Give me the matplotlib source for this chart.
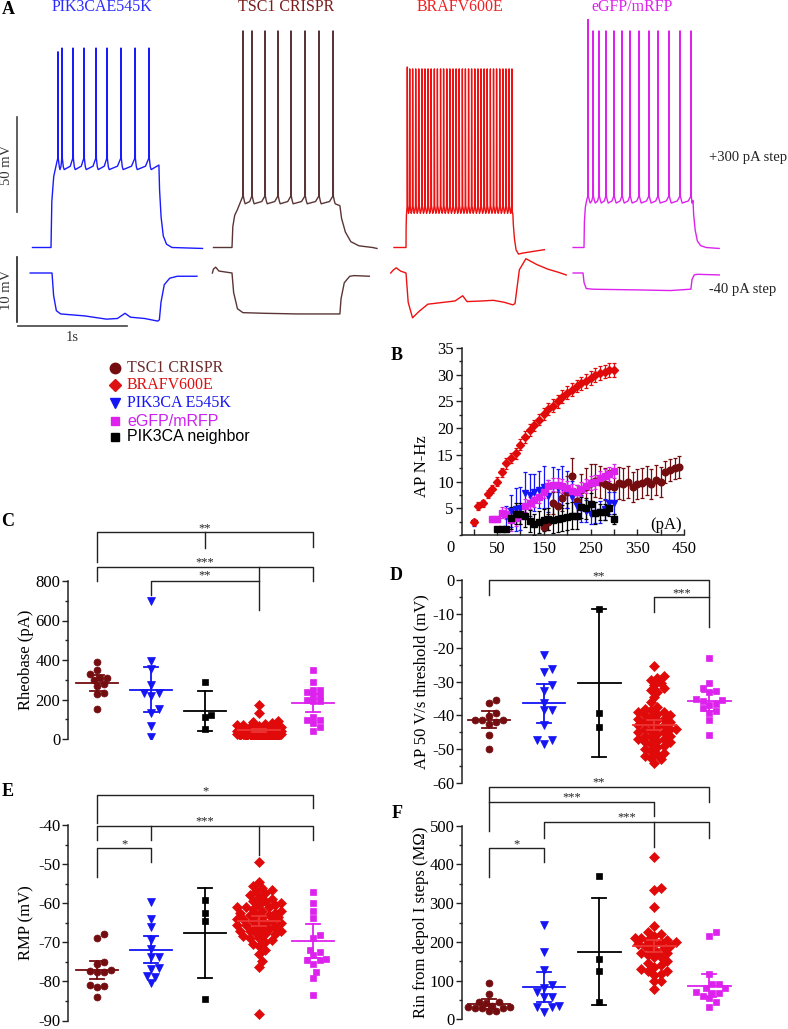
import numpy as np
import matplotlib.pyplot as plt
from matplotlib.lines import Line2D
from matplotlib.ticker import MultipleLocator

# ---------------- panel A: example traces ----------------
# time in s from step onset, voltage in mV from rest
trace_names = ['PIK3CAE545K', 'TSC1 CRISPR', 'BRAFV600E', 'eGFP/mRFP']
spikes_pik = [0.064, 0.101, 0.202, 0.303, 0.413, 0.514, 0.642, 0.771, 0.899]
spikes_tsc = [0.101, 0.183, 0.303, 0.422, 0.541, 0.670, 0.798, 0.927]
spikes_braf = [0.012, 0.034, 0.061, 0.089, 0.117, 0.146, 0.174, 0.203, 0.231, 0.260,
               0.288, 0.317, 0.345, 0.374, 0.402, 0.431, 0.460, 0.488, 0.517, 0.545,
               0.574, 0.602, 0.631, 0.660, 0.688, 0.717, 0.745, 0.774, 0.803, 0.831,
               0.860, 0.889, 0.917, 0.946, 0.972]
spikes_gfp = [0.037, 0.083, 0.138, 0.202, 0.275, 0.349, 0.422, 0.505, 0.596, 0.679,
              0.780, 0.881, 0.982]
step_len = [0.99, 0.99, 0.98, 1.0]
pre_len = [0.17, 0.17, 0.11, 0.10]
post_len = [0.40, 0.34, 0.29, 0.24]
rise_mv = [44, 20, 20, 25]
rise_tau = [0.05, 0.05, 0.008, 0.025]
thr_mv = [47, 27, 22, 27]
trough_mv = [41, 23, 18, 23.4]
peak_mv = [105, 114, 94, 114]
first_peak_mv = [103, 114, 95, 120]
end_mv = [43.4, 22, 18, 24.7]
off_tau = [0.02, 0.05, 0.015, 0.02]
dip_mv = [0, 0, -4.2, 0]

# -40 pA step
hyp_t_pik = [-0.20, 0.0, 0.015, 0.04, 0.08, 0.3, 0.5, 0.6, 0.67, 0.72, 0.85, 0.97, 0.985, 1.0, 1.03, 1.08, 1.15, 1.33]
hyp_v_pik = [0, 0, -3.5, -5.8, -6.3, -6.6, -7.1, -7.0, -6.2, -6.8, -7.0, -7.4, -7.2, -4.5, -1.8, -0.8, -0.5, -0.5]
hyp_t_tsc = [-0.18, -0.17, -0.15, -0.12, 0.0, 0.015, 0.05, 0.1, 0.3, 0.6, 0.99, 1.0, 1.03, 1.08, 1.12, 1.26]
hyp_v_tsc = [0, 0.6, 0.9, 0.3, 0, -3.0, -5.5, -6.1, -6.2, -6.3, -6.3, -4.0, -1.5, -0.5, -0.4, -0.5]
hyp_t_braf = [-0.14, -0.12, -0.09, -0.05, 0.0, 0.02, 0.06, 0.12, 0.2, 0.3, 0.45, 0.52, 0.56, 0.7, 0.8, 0.9,
              0.98, 1.0, 1.04, 1.1, 1.2, 1.3, 1.4, 1.47]
hyp_v_braf = [0, 0.4, 0.8, 0.3, 0, -4.5, -6.9, -5.9, -4.8, -4.6, -4.3, -3.5, -4.4, -4.3, -4.2, -4.5,
              -4.9, -4.7, 0.5, 2.2, 1.3, 0.6, 0.1, -0.3]
hyp_t_gfp = [-0.09, 0.0, 0.01, 0.03, 0.1, 0.5, 0.8, 0.98, 0.99, 1.0, 1.02, 1.05, 1.25]
hyp_v_gfp = [0, 0, -1.5, -2.4, -2.5, -2.6, -2.7, -2.5, -2.5, -1.0, -0.3, -0.2, -0.3]

# ---------------- panel B: AP frequency vs injected current ----------------
pA_braf = [0, 10, 20, 30, 40, 50, 60, 70, 80, 90, 100, 110, 120, 130, 140, 150, 160, 170, 180, 190,
           200, 210, 220, 230, 240, 250, 260, 270, 280, 290, 300]
hz_braf = [2.4, 5.4, 5.9, 7.7, 8.6, 10.0, 11.7, 13.4, 14.4, 15.3, 16.9, 18.3, 19.6, 20.5, 21.6, 22.6,
           23.6, 24.2, 25.0, 25.9, 26.6, 27.2, 27.9, 28.4, 28.9, 29.4, 29.9, 30.3, 30.6, 30.8, 30.9]
err_braf = [0.6, 0.7, 0.7, 0.8, 0.8, 0.9, 0.9, 1.0, 1.0, 1.0, 1.0, 1.1, 1.1, 1.1, 1.1, 1.1, 1.1, 1.2,
            1.2, 1.2, 1.2, 1.2, 1.2, 1.2, 1.3, 1.3, 1.3, 1.3, 1.3, 1.3, 1.3]
pA_tsc = [150, 160, 170, 180, 190, 200, 210, 220, 230, 240, 250, 260, 270, 280, 290, 300, 310, 320,
          330, 340, 350, 360, 370, 380, 390, 400, 410, 420, 430, 440]
hz_tsc = [1.5, 2.5, 6.0, 5.5, 7.0, 8.0, 11.0, 6.3, 8.5, 9.0, 9.8, 10.2, 10.0, 9.5, 9.2, 9.0, 9.8, 9.5,
          10.0, 9.0, 9.6, 9.8, 10.2, 9.6, 10.3, 10.0, 11.8, 12.2, 12.5, 12.7]
err_tsc = [0.5, 1.5, 2.0, 2.5, 2.5, 3.0, 3.5, 3.0, 3.0, 3.5, 3.5, 3.0, 3.0, 3.0, 3.0, 3.0, 3.0, 3.0,
           3.0, 2.8, 2.8, 2.8, 2.8, 2.8, 2.8, 2.8, 2.0, 2.0, 2.0, 2.0]
pA_pik = [0, 70, 80, 90, 100, 110, 120, 130, 140, 150, 160, 170, 180, 190, 200, 210, 220, 230, 240,
          250, 260, 270, 280, 290, 300]
hz_pik = [2.3, 3.5, 4.5, 4.8, 5.0, 7.8, 7.5, 8.0, 8.5, 9.0, 7.3, 9.2, 8.8, 9.0, 8.5, 7.2, 5.5, 5.0,
          4.5, 4.0, 4.2, 4.3, 4.8, 6.0, 6.0]
err_pik = [0.6, 2.0, 3.0, 4.0, 4.0, 4.0, 4.0, 3.5, 3.5, 4.0, 3.0, 3.5, 3.5, 4.0, 3.5, 3.0, 2.5, 2.5,
           2.0, 2.0, 2.0, 2.0, 2.0, 2.0, 2.0]
pA_gfp = [40, 50, 60, 70, 80, 90, 100, 110, 120, 130, 140, 150, 160, 170, 180, 190, 200, 210, 220,
          230, 240, 250, 260, 270, 280, 290, 300]
hz_gfp = [3.0, 3.0, 4.2, 4.0, 2.8, 3.2, 3.5, 5.5, 6.0, 6.5, 7.2, 8.1, 9.1, 9.4, 9.4, 9.1, 8.8, 8.3,
          8.1, 8.6, 9.1, 9.7, 10.0, 10.7, 11.0, 11.4, 11.9]
err_gfp = [0.5, 0.5, 1.0, 1.0, 2.0, 1.5, 1.5, 1.2, 1.2, 1.2, 1.2, 1.2, 1.2, 1.2, 1.2, 1.3, 1.3, 1.3,
           1.3, 1.3, 1.3, 1.3, 1.3, 1.3, 1.3, 1.3, 1.3]
pA_nb = [50, 60, 70, 80, 90, 100, 110, 120, 130, 140, 150, 160, 170, 180, 190, 200, 210, 220, 230,
         240, 250, 260, 270, 280, 290, 300]
hz_nb = [1.2, 1.2, 1.2, 3.2, 4.0, 4.0, 3.5, 2.6, 2.0, 2.4, 2.8, 3.0, 2.9, 3.0, 3.2, 3.4, 3.6, 3.6,
         5.2, 5.0, 5.8, 4.1, 4.3, 4.3, 5.0, 3.0]
err_nb = [0.3, 0.3, 0.3, 2.0, 2.0, 2.0, 2.0, 2.0, 2.0, 2.0, 2.0, 2.0, 2.5, 2.5, 2.5, 2.5, 2.5, 2.5,
          2.0, 2.0, 2.0, 2.0, 1.5, 1.5, 1.5, 1.0]

# ---------------- panels C-F: per-cell values ----------------
# group order: TSC1 CRISPR, PIK3CA E545K, PIK3CA neighbor, BRAFV600E, eGFP/mRFP
rheo_tsc = [350, 300, 230, 270, 310, 310, 235, 330, 280, 390, 150]
rheo_pik = [700, 396, 353, 273, 231, 218, 231, 133, 150, 67, 9]
rheo_nb = [290, 120, 110, 50]
rheo_braf = [172, 133, 92, 85, 80, 78, 72, 70, 65, 62, 60, 58, 55, 55, 52, 50, 50, 48, 45, 45, 44,
             42, 40, 40, 40, 38, 36, 35, 35, 33, 32, 30, 30, 30, 28, 26, 25, 25, 22, 20, 20, 20, 18,
             15, 15, 12, 10, 10, 8, 25, 45, 35]
rheo_gfp = [350, 290, 240, 250, 250, 220, 220, 190, 190, 200, 95, 110, 95, 80, 60, 40]
rheo_mean = [285, 250, 142, 44, 181]
rheo_err = [40, 114, 101, 8, 45]

thr_tsc = [-35.5, -36.4, -41.5, -39.3, -40.1, -41.3, -41.3, -42.5, -42.1, -45.8, -49.9]
thr_pik = [-22.1, -26.3, -27.2, -32.7, -31.0, -36.4, -38.3, -38.5, -42.8, -47.4, -48.5, -47.4]
thr_nb = [-8.6, -39.3, -43.5]
thr_braf = [-25.5, -28.5, -29.0, -29.5, -30.5, -31.0, -32.0, -32.5, -33.0, -34.5, -36.2, -37.5,
            -38.5, -39.0, -39.0, -39.5, -40.0, -40.5, -41.0, -41.0, -41.5, -42.0, -42.0, -42.5,
            -43.0, -43.0, -43.5, -44.0, -44.0, -44.5, -45.0, -45.0, -45.5, -46.0, -46.0, -46.5,
            -47.0, -47.0, -47.5, -48.0, -48.0, -48.5, -49.0, -49.5, -50.0, -50.5, -51.0, -51.5,
            -52.0, -52.5, -53.0, -54.1, -38.0, -40.0, -44.0]
thr_gfp = [-23.1, -30.3, -33.2, -32.9, -32.0, -35.9, -35.4, -35.3, -37.9, -38.6, -36.6, -36.9,
           -39.3, -41.5, -45.8]
thr_mean = [-41.3, -36.5, -30.5, -42.8, -35.9]
thr_err = [2.5, 5.7, 21.8, 1.5, 2.8]

rmp_tsc = [-67.9, -68.9, -77.6, -77.0, -77.4, -75.0, -75.5, -77.6, -81.4, -81.0, -81.3, -84.0]
rmp_pik = [-59.7, -64.1, -69.3, -66.1, -73.7, -73.7, -71.7, -76.7, -76.8, -78.5, -78.9, -80.4]
rmp_nb = [-59.1, -64.5, -62.5, -84.4]
rmp_braf = [-49.4, -54.5, -55.5, -56.0, -56.5, -57.5, -58.0, -58.5, -59.0, -59.5, -59.5, -60.0,
            -60.5, -60.5, -61.0, -61.0, -61.5, -62.0, -62.0, -62.5, -62.5, -63.0, -63.0, -63.5,
            -63.5, -64.0, -64.0, -64.5, -64.5, -65.0, -65.0, -65.5, -65.5, -66.0, -66.0, -66.5,
            -66.5, -67.0, -67.0, -67.5, -68.0, -68.0, -68.5, -69.0, -69.0, -69.5, -70.0, -70.5,
            -71.0, -72.0, -73.0, -74.8, -76.3, -88.4, -57.0, -61.0, -63.0, -65.0, -67.0]
rmp_gfp = [-57.2, -60.0, -62.1, -63.8, -68.1, -68.9, -71.9, -72.5, -74.6, -74.4, -73.3, -74.3,
           -75.5, -77.6, -79.1, -83.5]
rmp_mean = [-77.2, -71.9, -67.6, -64.5, -69.6]
rmp_err = [2.3, 3.5, 11.5, 1.3, 4.4]

rin_tsc = [93, 65, 44, 43, 33, 35, 30, 32, 45, 22, 22, 30, 28]
rin_pik = [244, 173, 127, 80, 89, 71, 57, 57, 34, 33, 33, 20]
rin_nb = [370, 156, 126, 45]
rin_braf = [420, 338, 335, 290, 242, 225, 220, 215, 210, 210, 205, 200, 200, 195, 195, 190, 185,
            180, 175, 170, 165, 160, 160, 150, 145, 140, 135, 130, 125, 125, 118, 115, 100, 98, 78,
            205, 190, 170]
rin_gfp = [225, 215, 118, 80, 90, 90, 80, 60, 68, 68, 70, 55, 45, 33]
rin_mean = [39, 84, 175, 190, 87]
rin_err = [13, 39, 138, 15, 29]

legend_labels = ['TSC1 CRISPR', 'BRAFV600E', 'PIK3CA E545K', 'eGFP/mRFP', 'PIK3CA neighbor']

# ---------------- style ----------------
plt.rcParams['font.family'] = ['Liberation Serif', 'DejaVu Serif']
plt.rcParams['axes.unicode_minus'] = False
W, H = 788, 1029
PX_S = 109.0
ink = '#222222'
c_tsc, c_pik, c_nb, c_braf, c_gfp = '#740d10', '#1414f5', 'black', '#e00a0a', '#dd22ee'
trace_cols = ['#1a1aff', '#5a3536', '#ee1111', '#dd22ee']
title_cols = ['#2a2aff', '#7a1c1c', '#ee2222', '#dd22ee']

fig = plt.figure(figsize=(W / 100, H / 100), dpi=100)


def box(l, t, r, b):
    return [l / W, 1 - b / H, (r - l) / W, (b - t) / H]


def spike_trace(i, spikes):
    dur = step_len[i]
    thr, tr = thr_mv[i], trough_mv[i]
    t = [-pre_len[i], 0.0]
    v = [0.0, 0.0]
    for frac, lev in [(0.15, 0.55), (0.5, 0.85), (1.0, 1.0)]:
        if frac * rise_tau[i] < spikes[0] - 0.003:
            t.append(frac * rise_tau[i])
            v.append(lev * rise_mv[i])
    t.append(spikes[0] - 0.002)
    v.append(thr)
    for k, ts in enumerate(spikes):
        nxt = spikes[k + 1] if k + 1 < len(spikes) else dur
        isi = nxt - ts
        t += [ts, ts + min(0.003, 0.15 * isi), ts + min(0.012, 0.35 * isi), ts + min(0.02, 0.5 * isi)]
        v += [first_peak_mv[i] if k == 0 else peak_mv[i], thr, tr + 1.5, tr]
        if k + 1 < len(spikes):
            t += [ts + 0.75 * isi, nxt - 0.002]
            v += [tr + 0.3 * (thr - tr), thr]
    t.append(dur)
    v.append(end_mv[i])
    tau = off_tau[i]
    for a, b, c in [(0.3, 0.7, 0.1), (1.0, 0.37, 0.5), (2.0, 0.14, 0.9), (3.5, 0.04, 1.0), (6.0, 0.0, 0.7)]:
        t.append(dur + a * tau)
        v.append(end_mv[i] * b + dip_mv[i] * c)
    t.append(dur + post_len[i])
    v.append(dip_mv[i] * 0.15 - 0.5)
    return np.array(t), np.array(v)


# ---------------- A ----------------
axA = fig.add_axes(box(0, 0, W, 262))
axA.set_xlim(0, W / PX_S)
axA.set_ylim((247.5 - 262) / 1.9, 247.5 / 1.9)
axA.axis('off')
axA2 = fig.add_axes(box(0, 250, W, 345))
axA2.set_xlim(0, W / PX_S)
axA2.set_ylim((273 - 345) / 6.5, (273 - 250) / 6.5)
axA2.axis('off')

onset_top = [51, 232, 406, 584]
onset_bot = [52, 232, 406, 583]
title_x = [102, 286, 460, 632]
for i, spk in enumerate([spikes_pik, spikes_tsc, spikes_braf, spikes_gfp]):
    t, v = spike_trace(i, spk)
    axA.plot(onset_top[i] / PX_S + t, v, color=trace_cols[i], lw=1.0)
    fig.text(title_x[i] / W, 1 - 7 / H, trace_names[i], color=title_cols[i], fontsize=11.5,
             ha='center', va='center')
for i, (ht, hv) in enumerate([(hyp_t_pik, hyp_v_pik), (hyp_t_tsc, hyp_v_tsc),
                              (hyp_t_braf, hyp_v_braf), (hyp_t_gfp, hyp_v_gfp)]):
    axA2.plot(onset_bot[i] / PX_S + np.array(ht), hv, color=trace_cols[i], lw=1.0)

# scale bars
axA.plot([17 / PX_S, 17 / PX_S], [18.7, 68.7], color='#444444', lw=1.2)
axA.text(7 / PX_S, 43.7, '50 mV', rotation=90, ha='center', va='center', fontsize=10.5, color='#333333')
axA2.plot([17 / PX_S, 17 / PX_S], [2.46, -7.54], color='#222222', lw=1.2)
axA2.text(7 / PX_S, -2.6, '10 mV', rotation=90, ha='center', va='center', fontsize=10.5, color='#333333')
axA2.plot([18 / PX_S, 127 / PX_S], [-8.15, -8.15], color='#444444', lw=1.2)
axA2.text(72 / PX_S, -9.85, '1s', ha='center', va='center', fontsize=10.5, color='#333333', clip_on=False)
fig.text(709 / W, 1 - 158 / H, '+300 pA step', fontsize=10.5, va='center', color=ink)
fig.text(709 / W, 1 - 290 / H, '-40 pA step', fontsize=10.5, va='center', color=ink)

# panel letters
for lab, x, y in [('A', 8, 9), ('B', 397, 355), ('C', 8, 522), ('D', 396, 575), ('E', 8, 792), ('F', 397, 813)]:
    fig.text(x / W, 1 - y / H, lab, fontsize=13, fontweight='bold', ha='center', va='center')

# ---------------- legend ----------------
leg_style = [('o', c_tsc, 7.5), ('D', '#dd1111', 6.5), ('v', c_pik, 7.5), ('s', c_gfp, 6), ('s', 'black', 6)]
leg_text_cols = ['#6b2b2b', '#dd1111', '#1414f5', '#cc22ee', 'black']
leg_fonts = ['Liberation Serif', 'Liberation Serif', 'Liberation Serif', 'Liberation Sans', 'Liberation Sans']
for k, y in enumerate([368, 385, 403, 421, 437]):
    m, c, s = leg_style[k]
    fig.add_artist(Line2D([115 / W], [1 - y / H], marker=m, ms=s, color=c, ls='none',
                          transform=fig.transFigure))
    fig.text(127 / W, 1 - y / H, legend_labels[k], color=leg_text_cols[k], fontsize=11.5,
             family=leg_fonts[k], va='center')

# ---------------- B ----------------
axB = fig.add_axes(box(462, 348, 684, 535))
for x, y, e, m, c, ms in [(pA_tsc, hz_tsc, err_tsc, 'o', c_tsc, 4.8),
                          (pA_pik, hz_pik, err_pik, 'v', c_pik, 5),
                          (pA_gfp, hz_gfp, err_gfp, 's', c_gfp, 4),
                          (pA_nb, hz_nb, err_nb, 's', c_nb, 4),
                          (pA_braf, hz_braf, err_braf, 'D', c_braf, 3.8)]:
    axB.errorbar(x, y, yerr=e, fmt=m, ms=ms, color=c, mec=c, ecolor=c, elinewidth=0.9,
                 capsize=1.6, capthick=0.9)
axB.set_xlim(-25, 450)
axB.set_ylim(0, 35)
for s in ['top', 'right']:
    axB.spines[s].set_visible(False)
for s in ['left', 'bottom']:
    axB.spines[s].set_color(ink)
    axB.spines[s].set_linewidth(1.1)
axB.set_yticks([5, 10, 15, 20, 25, 30, 35])
axB.yaxis.set_minor_locator(MultipleLocator(2.5))
axB.set_xticks([50, 150, 250, 350, 450])
axB.xaxis.set_minor_locator(MultipleLocator(100))
axB.tick_params(axis='y', which='major', length=4, width=1, labelsize=12, pad=2, color=ink)
axB.tick_params(axis='y', which='minor', length=2, width=1, color=ink)
axB.tick_params(axis='x', which='both', direction='in', length=4, width=1, labelsize=12, pad=4, color=ink)
axB.text(-0.05, -0.07, '0', transform=axB.transAxes, fontsize=12, ha='center', va='center')
axB.text(411, 1.9, '(pA)', fontsize=12, ha='center', va='center')
axB.set_ylabel('AP N-Hz', fontsize=12, va='center')
axB.yaxis.set_label_coords(-0.178, 0.37)


# ---------------- C-F ----------------
dot_style = [('o', c_tsc, 5.0), ('v', c_pik, 5.4), ('s', c_nb, 4.4), ('D', c_braf, 4.6), ('s', c_gfp, 4.6)]


def swarm_x(ax, xc, vals, d, maxw=24.0):
    vals = np.asarray(vals, float)
    pts = ax.transData.transform(np.column_stack([np.full(len(vals), float(xc)), vals]))
    x0 = pts[0, 0]
    y = pts[:, 1]
    xs = np.empty(len(vals))
    done = []
    for i in np.argsort(y):
        best, best_gap = x0, -1.0
        k = 0
        while True:
            off = ((k + 1) // 2) * 0.5 * d * (1 if k % 2 else -1)
            if abs(off) > maxw:
                break
            cand = x0 + off
            gap = min([np.hypot(cand - px, y[i] - py) for px, py in done] or [1e9])
            if gap >= 0.92 * d:
                best = cand
                break
            if gap > best_gap:
                best, best_gap = cand, gap
            k += 1
        xs[i] = best
        done.append((best, y[i]))
    return ax.transData.inverted().transform(np.column_stack([xs, y]))[:, 0]


def dot_panel(rect, xlim, ylim, step, ylabel, sets, means, errs):
    ax = fig.add_axes(box(*rect))
    ax.set_xlim(*xlim)
    ax.set_ylim(*ylim)
    for i, vals in enumerate(sets):
        m, c, ms = dot_style[i]
        xs = swarm_x(ax, i, vals, ms * 100 / 72)
        ax.plot(xs, vals, ls='none', marker=m, ms=ms, color=c, mec=c, mew=0.5, zorder=2)
        mu, e = means[i], errs[i]
        lc = '#ee3333' if i == 3 else c
        ax.plot([i - 0.39, i + 0.39], [mu, mu], color=lc, lw=1.3, zorder=3)
        ax.plot([i, i], [mu - e, mu + e], color=lc, lw=1.3, zorder=3)
        for yy in (mu - e, mu + e):
            ax.plot([i - 0.13, i + 0.13], [yy, yy], color=lc, lw=1.3, zorder=3)
    for s in ['top', 'right', 'bottom']:
        ax.spines[s].set_visible(False)
    ax.spines['left'].set_color(ink)
    ax.spines['left'].set_linewidth(1.1)
    ax.set_xticks([])
    ax.yaxis.set_major_locator(MultipleLocator(step))
    ax.yaxis.set_minor_locator(MultipleLocator(step / 2))
    ax.tick_params(axis='y', which='major', length=4, width=1, labelsize=12, pad=1.5, color=ink)
    ax.tick_params(axis='y', which='minor', length=2, width=1, color=ink)
    ax.set_ylabel(ylabel, fontsize=12, va='center')
    return ax


def bracket(ax, xl, xr, y, yl, yr):
    ax.plot([xl, xl, xr, xr], [yl, y, y, yr], color=ink, lw=1.0, clip_on=False)


def leg(ax, x, y0, y1):
    ax.plot([x, x], [y0, y1], color=ink, lw=1.0, clip_on=False)


def star(ax, x, y, s):
    ax.text(x, y, s, ha='center', va='center', fontsize=9, color=ink, clip_on=False)


# C
axC = dot_panel((68, 581, 345, 739), (-0.537, 4.59), (0, 800), 200, 'Rheobase (pA)',
                [rheo_tsc, rheo_pik, rheo_nb, rheo_braf, rheo_gfp], rheo_mean, rheo_err)
axC.yaxis.set_label_coords(-0.152, 0.5)
bracket(axC, 0, 4, 1048, 896, 972)
leg(axC, 2, 1048, 967)
star(axC, 2, 1068, '**')
bracket(axC, 0, 4, 871, 800, 800)
leg(axC, 3, 871, 653)
star(axC, 2, 896, '***')
bracket(axC, 1, 3, 800, 729, 800)
star(axC, 2, 830, '**')

# D
axD = dot_panel((462, 580, 740, 783), (-0.49, 4.56), (-60, 0), 10, 'AP 50 V/s threshold (mV)',
                [thr_tsc, thr_pik, thr_nb, thr_braf, thr_gfp], thr_mean, thr_err)
axD.yaxis.set_label_coords(-0.147, 0.5)
bracket(axD, 0, 4, 0, -4.4, -13.8)
star(axD, 2, 1.2, '**')
bracket(axD, 3, 4, -5.1, -9.6, -5.1)
star(axD, 3.5, -4.0, '***')

# E
axE = dot_panel((68, 825, 345, 1020.5), (-0.537, 4.59), (-90, -40), 10, 'RMP (mV)',
                [rmp_tsc, rmp_pik, rmp_nb, rmp_braf, rmp_gfp], rmp_mean, rmp_err)
axE.yaxis.set_label_coords(-0.150, 0.5)
bracket(axE, 0, 4, -32.3, -39.4, -35.7)
star(axE, 2, -31.3, '*')
bracket(axE, 0, 4, -40.3, -43.8, -43.8)
leg(axE, 1, -40.3, -43.8)
leg(axE, 3, -40.3, -47.7)
star(axE, 2, -39.0, '***')
bracket(axE, 0, 1, -45.8, -53.2, -49.5)
star(axE, 0.5, -44.9, '*')

# F
axF = dot_panel((462, 825.7, 740, 1019.3), (-0.49, 4.56), (0, 500), 100, 'Rin from depol I steps (MΩ)',
                [rin_tsc, rin_pik, rin_nb, rin_braf, rin_gfp], rin_mean, rin_err)
axF.yaxis.set_label_coords(-0.147, 0.5)
bracket(axF, 0, 4, 601, 487, 562)
star(axF, 2, 611, '**')
bracket(axF, 0, 3, 562, 562, 525)
star(axF, 1.5, 574, '***')
bracket(axF, 1, 4, 509, 469, 469)
leg(axF, 3, 509, 446)
star(axF, 2.5, 521, '***')
bracket(axF, 0, 1, 443, 367, 406)
star(axF, 0.5, 453, '*')

fig.savefig('out.png', dpi=100)
